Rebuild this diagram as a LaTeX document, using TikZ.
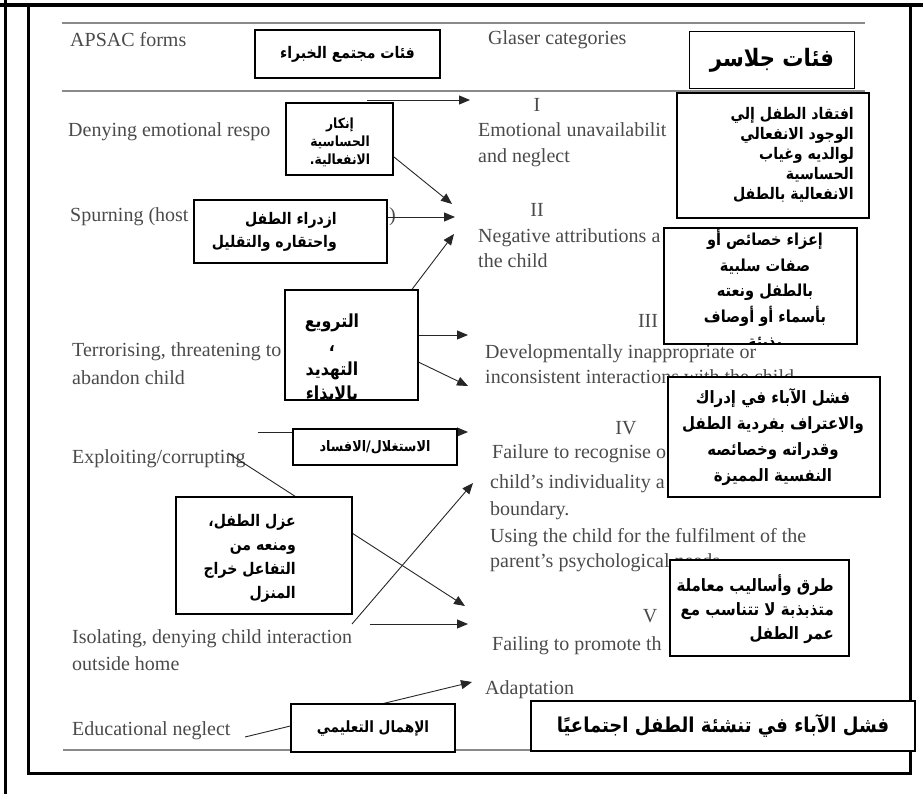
\documentclass[tikz,border=0pt]{standalone}
\usepackage{fontspec}
\setmainfont{Liberation Serif}
\newfontfamily\arabicfont[Script=Arabic,FakeStretch=0.88]{DejaVu Sans}
\TeXXeTstate=1
\usetikzlibrary{arrows.meta}
\definecolor{txtgray}{HTML}{4A4A4A}
\definecolor{rulegray}{HTML}{8A8A8A}
\newcommand\arl[1]{\beginR #1\endR}
\newcommand\afs[2]{\arabicfont\bfseries\fontsize{#1}{#2}\selectfont}
\begin{document}
\begin{tikzpicture}[x=1pt,y=-1pt,
  lt/.style={font=\fontsize{20}{25}\selectfont, text=txtgray, inner sep=0pt, anchor=base west},
  rn/.style={font=\fontsize{20}{25}\selectfont, text=txtgray, inner sep=0pt, anchor=base},
  abox/.style={draw=black, line width=1.3pt, fill=white, inner sep=0pt},
  atxt/.style={text=black, inner sep=0pt},
  rulel/.style={draw=rulegray, line width=1.8pt},
  conn/.style={draw=black!85, line width=0.9pt, -{Triangle[length=11pt,width=9pt]}},
  frame/.style={draw=black, line width=3pt},
]
\useasboundingbox (0,0) rectangle (923,794);
% frame
\coordinate (fTL) at (0,5);
\coordinate (fTR) at (923,5);
\coordinate (oT) at (5,0);
\coordinate (oB) at (5,794);
\coordinate (iTL) at (28,5);
\coordinate (iBR) at (910,773);
\draw[frame] (iTL) rectangle (iBR);
\draw[frame, line width=4pt] (fTL) -- (fTR);
\draw[frame] (oT) -- (oB);
% table rules
\coordinate (r1a) at (62,23); \coordinate (r1b) at (865,23);
\coordinate (r2a) at (62,91); \coordinate (r2b) at (865,91);
\coordinate (r3a) at (63,750); \coordinate (r3b) at (540,750);
\draw[rulel] (r1a) -- (r1b);
\draw[rulel] (r2a) -- (r2b);
\draw[rulel] (r3a) -- (r3b);
% left column
\node[lt] (apsac) at (70,47) {APSAC forms};
\node[lt] (deny) at (68,137) {Denying emotional respo};
\node[lt] (spurn) at (70,222) {Spurning (host};
\node[lt] (spurnb) at (389,222) {)};
\node[lt] (terr1) at (72,356) {Terrorising, threatening to};
\node[lt] (terr2) at (72,384) {abandon child};
\node[lt] (expl) at (72,463) {Exploiting/corrupting};
\node[lt] (iso1) at (72,643) {Isolating, denying child interaction};
\node[lt] (iso2) at (72,670) {outside home};
\node[lt] (edu) at (72,735) {Educational neglect};
% right column
\node[lt] (glaser) at (488,45) {Glaser categories};
\node[rn] (nI) at (537,112) {I};
\node[lt] (emo1) at (478,137) {Emotional unavailabilit};
\node[lt] (emo2) at (478,163) {and neglect};
\node[rn] (nII) at (537,217) {II};
\node[lt] (neg1) at (478,243) {Negative attributions a};
\node[lt] (neg2) at (478,268) {the child};
\node[rn] (nIII) at (648,327) {III};
\node[lt] (dev1) at (485,358) {Developmentally inappropriate or};
\node[lt] (dev2) at (485,383) {inconsistent interactions with the child};
\node[rn] (nIV) at (626,434) {IV};
\node[lt] (fail1) at (492,458) {Failure to recognise o};
\node[lt] (fail2) at (490,488) {child’s individuality a};
\node[lt] (fail3) at (490,515) {boundary.};
\node[lt] (fail4) at (490,542) {Using the child for the fulfilment of the};
\node[lt] (fail5) at (490,567) {parent’s psychological needs};
\node[rn] (nV) at (650,622) {V};
\node[lt] (prom1) at (492,650) {Failing to promote th};
\node[lt] (prom2) at (485,694) {Adaptation};
% connector end points
\coordinate (s1) at (367,100); \coordinate (t1) at (470,100);
\coordinate (s2) at (394,157); \coordinate (t2) at (452,204);
\coordinate (s3) at (380,217); \coordinate (t3) at (455,217);
\coordinate (s4) at (410,292); \coordinate (t4) at (454,234);
\coordinate (s5) at (410,335); \coordinate (t5) at (468,335);
\coordinate (s6) at (410,358); \coordinate (t6) at (468,386);
\coordinate (s7) at (258,432); \coordinate (t7) at (468,432);
\coordinate (s8) at (228,453); \coordinate (t8) at (465,606);
\coordinate (s9) at (352,624); \coordinate (t9) at (473,483);
\coordinate (s10) at (370,624); \coordinate (t10) at (468,624);
\coordinate (s11) at (245,737); \coordinate (t11) at (472,682);
\foreach \i in {1,...,11} \draw[conn] (s\i) -- (t\i);
% Arabic boxes
\node[abox, minimum width=185pt, minimum height=48pt, font=\afs{16}{18}] (fe) at (347.5,54) {\arl{فئات مجتمع الخبراء}};
\node[abox, minimum width=165pt, minimum height=57pt, font=\afs{24}{28}] (gl) at (772,60) {\arl{فئات جلاسر}};
\node[abox, minimum width=107pt, minimum height=72pt] (ink) at (339.5,139) {};
\node[atxt, align=center, font=\afs{14}{18}] (inkt) at (340,142)
  {\arl{إنكار}\\\arl{الحساسية}\\\arl{الانفعالية.}};
\node[abox, minimum width=193pt, minimum height=63pt] (izd) at (290.5,231.5) {};
\node[atxt, align=right, anchor=east, font=\afs{16}{23}] (izdt) at (337,232)
  {\arl{ازدراء الطفل}\\\arl{واحتقاره والتقليل}};
\node[abox, minimum width=192pt, minimum height=125pt] (bI) at (773,155.5) {};
\node[atxt, align=right, anchor=east, font=\afs{16}{20}] (bIt) at (854,155)
  {\arl{افتقاد الطفل إلي}\\\arl{الوجود الانفعالي}\\\arl{لوالديه وغياب}\\\arl{الحساسية}\\\arl{الانفعالية بالطفل}};
\node[abox, minimum width=193pt, minimum height=116pt] (bII) at (760.5,286) {};
\begin{scope}
\clip (bII.south west) rectangle (bII.north east);
\node[atxt, align=center, anchor=north, font=\afs{16.5}{25.5}] (bIIt) at (765,229)
  {\arl{إعزاء خصائص أو}\\\arl{صفات سلبية}\\\arl{بالطفل ونعته}\\\arl{بأسماء أو أوصاف}\\\arl{بذيئة}};
\end{scope}
\draw[line width=1.3pt] (bII.south west) rectangle (bII.north east);
\node[abox, minimum width=133pt, minimum height=110pt] (ter) at (351.5,345) {};
\begin{scope}
\clip (ter.south west) rectangle (ter.north east);
\node[atxt, align=center, anchor=north, font=\afs{18}{24}] (tert) at (332,314)
  {\arl{الترويع}\\\arl{،}\\\arl{التهديد}\\\arl{بالايذاء}};
\end{scope}
\draw[line width=1.3pt] (ter.south west) rectangle (ter.north east);
\node[abox, minimum width=164pt, minimum height=36pt, font=\afs{14.5}{18}] (ist) at (375,447) {\arl{الاستغلال/الافساد}};
\node[abox, minimum width=212pt, minimum height=120pt] (bIV) at (774,437) {};
\node[atxt, align=center, font=\afs{17}{26}] (bIVt) at (773,437)
  {\arl{فشل الآباء في إدراك}\\\arl{والاعتراف بفردية الطفل}\\\arl{وقدراته وخصائصه}\\\arl{النفسية المميزة}};
\node[abox, minimum width=176pt, minimum height=117pt] (azl) at (264,555.5) {};
\node[atxt, align=right, anchor=east, font=\afs{16}{24}] (azlt) at (296,558)
  {\arl{عزل الطفل،}\\\arl{ومنعه من}\\\arl{التفاعل خراج}\\\arl{المنزل}};
\node[abox, minimum width=179pt, minimum height=96pt] (bV) at (759.5,608) {};
\node[atxt, align=right, anchor=east, font=\afs{17}{24}] (bVt) at (834,609)
  {\arl{طرق وأساليب معاملة}\\\arl{متذبذبة لا تتناسب مع}\\\arl{عمر الطفل}};
\node[abox, minimum width=164pt, minimum height=48pt, font=\afs{15.5}{18}] (ihm) at (373,728) {\arl{الإهمال التعليمي}};
\node[abox, minimum width=384pt, minimum height=50pt, font=\afs{20.5}{24}] (big) at (723,726) {\arl{فشل الآباء في تنشئة الطفل اجتماعيًا}};
\end{tikzpicture}
\end{document}
